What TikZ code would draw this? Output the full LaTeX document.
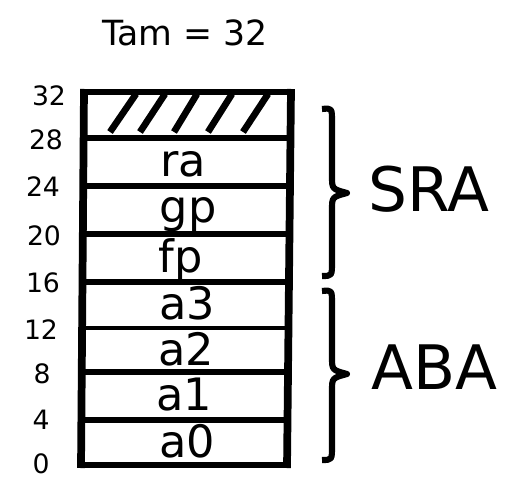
\documentclass[tikz,border=0pt]{standalone}
\usepackage{fontspec}
\setmainfont{DejaVu Sans}
\usetikzlibrary{calc}
\begin{document}
\begin{tikzpicture}[x=0.75pt,y=-0.75pt,
  addr/.style={anchor=base,font=\fontsize{20}{22}\selectfont,inner sep=0pt},
  cell/.style={anchor=base,font=\fontsize{33.5}{36}\selectfont,inner sep=0pt},
  grp/.style={anchor=base west,font=\fontsize{46}{50}\selectfont,inner sep=0pt},
  ttl/.style={anchor=base,font=\fontsize{26}{30}\selectfont,inner sep=0pt},
  side/.style={line width=5.8pt},
  rowline/.style={line width=4.2pt},
  thickrow/.style={line width=5pt},
  thinrow/.style={line width=2.6pt},
  hatch/.style={line width=5pt},
  bracepath/.style={line width=4.6pt,line join=round}]
\useasboundingbox (0,0) rectangle (506,488);
% box corners
\coordinate (TL) at (84,89);
\coordinate (BL) at (81,468);
\coordinate (TR) at (291,89);
\coordinate (BR) at (287,468);
\draw[side] (TL) -- (BL);
\draw[side] (TR) -- (BR);
% row boundaries
\foreach \n/\y/\s in {8/92/rowline,7/138/thickrow,6/186/thickrow,5/234/rowline,4/282/rowline,3/328/thinrow,2/372/rowline,1/420/rowline,0/465/rowline}{
  \coordinate (L\n) at ({84-3*(\y-89)/379},\y);
  \coordinate (R\n) at ({291-4*(\y-89)/379},\y);
  \draw[\s] (L\n) -- (R\n);
}
% hatch
\foreach \i/\xa/\xb in {1/110/136,2/140/165,3/174/197,4/208/232,5/243/268}{
  \coordinate (ha\i) at (\xa,132);
  \coordinate (hb\i) at (\xb,94);
  \draw[hatch] (ha\i) -- (hb\i);
}
% cell labels
\node[cell] (ra) at (183,177) {ra};
\node[cell] (gp) at (188,223) {gp};
\node[cell] (fp) at (181,272) {fp};
\node[cell] (a3) at (187,319) {a3};
\node[cell] (a2) at (186,365) {a2};
\node[cell] (a1) at (184,410) {a1};
\node[cell] (a0) at (187,457) {a0};
% addresses
\node[addr] (n32) at (49,106) {32};
\node[addr] (n28) at (46,150) {28};
\node[addr] (n24) at (43,197) {24};
\node[addr] (n20) at (44,245) {20};
\node[addr] (n16) at (43,292) {16};
\node[addr] (n12) at (41,339) {12};
\node[addr] (n8) at (42,383) {8};
\node[addr] (n4) at (41,429) {4};
\node[addr] (n0) at (41,473) {0};
% title
\node[ttl] (title) at (185,46) {Tam = 32};
% braces
\draw[bracepath] (322,109) .. controls (332,108) .. (332,122) -- (332,176)
  .. controls (332,189) .. (347,193) .. controls (332,197) .. (332,210)
  -- (332,262) .. controls (332,276) .. (322,276);
\draw[bracepath] (322,291) .. controls (332,290) .. (332,304) -- (332,357)
  .. controls (332,370) .. (347,374) .. controls (332,378) .. (332,391)
  -- (332,446) .. controls (332,460) .. (322,460);
\node[grp] (sra) at (368,212) {SRA};
\node[grp] (aba) at (371,389) {ABA};
\end{tikzpicture}
\end{document}
